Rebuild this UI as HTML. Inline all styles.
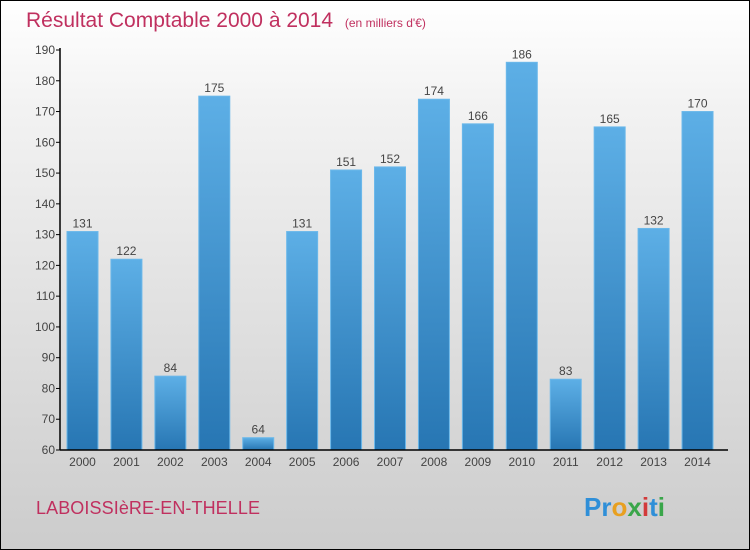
<!DOCTYPE html>
<html><head><meta charset="utf-8"><style>
body{margin:0;width:750px;height:550px;overflow:hidden;font-family:"Liberation Sans",sans-serif}
#wrap{position:absolute;left:0;top:0;width:748px;height:548px;border:1px solid #000;background:linear-gradient(#ffffff,#f2f2f2 20%,#cccccc)}
</style></head><body>
<div id="wrap">
<svg width="750" height="550" style="position:absolute;left:-1px;top:-1px" id="svg">
<defs><linearGradient id="bg" x1="0" y1="0" x2="0" y2="1"><stop offset="0" stop-color="#5dafe6"/><stop offset="1" stop-color="#2776b3"/></linearGradient></defs>
<text x="26" y="27" font-size="21" fill="#c0305f">Résultat Comptable 2000 à 2014 <tspan font-size="12" dx="6">(en milliers d'€)</tspan></text>
<text x="36" y="514" font-size="18" fill="#c0305f" textLength="224">LABOISSIèRE-EN-THELLE</text>
<text x="584" y="516" font-size="26" font-weight="bold"><tspan fill="#2f8fd8">Pr</tspan><tspan fill="#e8a020">o</tspan><tspan fill="#3aa64a">x</tspan><tspan fill="#d23a3a">i</tspan><tspan fill="#2f8fd8">t</tspan><tspan fill="#3aa64a">i</tspan></text>
<g id="plot"></g>
</svg></div>
<script>
const years=["2000","2001","2002","2003","2004","2005","2006","2007","2008","2009","2010","2011","2012","2013","2014"];
const values=[131,122,84,175,64,131,151,152,174,166,186,83,165,132,170];
const ticks=[60,70,80,90,100,110,120,130,140,150,160,170,180,190];
const ns="http://www.w3.org/2000/svg",g=document.getElementById('plot');
const y0=450,y1=50,vmin=60,vmax=190,xl=60,step=43.93,bw=31;
const yS=v=>y0-(v-vmin)*(y0-y1)/(vmax-vmin);
const xC=i=>82.5+i*step;
function mk(t,a){const e=document.createElementNS(ns,t);for(const k in a)e.setAttribute(k,a[k]);g.appendChild(e);return e;}
ticks.forEach(t=>{
 const l=mk('line',{x1:xl-4,x2:xl,y1:yS(t),y2:yS(t),stroke:'#000'});
 
 
 const tx=mk('text',{x:xl-5,y:yS(t)+4,'font-size':12,fill:'#444','text-anchor':'end'});tx.textContent=t;
 
 
});
values.forEach((v,i)=>{
 const r=mk('rect',{x:xC(i)-bw/2,y:yS(v),width:bw,height:y0-yS(v),fill:'url(#bg)',stroke:'#6bb8ea','stroke-width':1});
 
 
 const lb=mk('text',{x:xC(i),y:yS(v)-4,'font-size':12,fill:'#444','text-anchor':'middle'});lb.textContent=v;
 
 
 const xl2=mk('text',{x:xC(i),y:466,'font-size':12,fill:'#444','text-anchor':'middle'});xl2.textContent=years[i];
 
 
});
const ya=mk('line',{x1:xl,x2:xl,y1:y1-2,y2:y0,stroke:'#000','stroke-width':1.5});


const xa=mk('line',{x1:xl,x2:728,y1:y0,y2:y0,stroke:'#000','stroke-width':1.5});


</script>
</body></html>
